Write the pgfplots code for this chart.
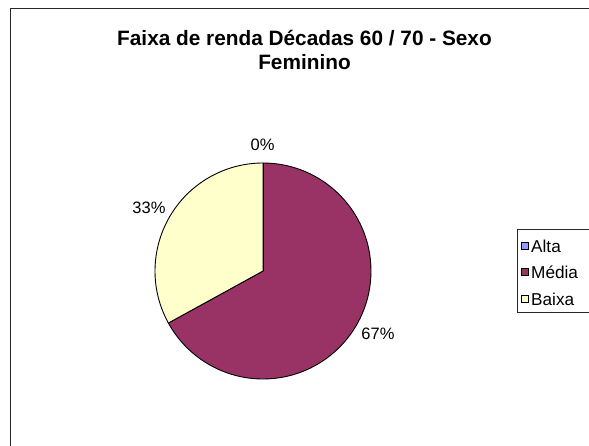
\documentclass[border=0pt]{standalone}
\usepackage{pgfplots}
\pgfplotsset{compat=1.18}
\usepackage{fontspec}
\setmainfont{Liberation Sans}
\definecolor{alta}{RGB}{153,153,255}
\definecolor{media}{RGB}{153,51,102}
\definecolor{baixa}{RGB}{255,255,204}
\definecolor{frame}{RGB}{40,40,40}

% shares in percent, drawn clockwise from 12 o'clock
\def\pAlta{0}
\def\pMedia{67}
\def\pBaixa{33}

\begin{document}
\begin{tikzpicture}
\useasboundingbox (0,0) rectangle (589pt,445pt);
\begin{axis}[x=1pt,y=1pt,xmin=0,xmax=589,ymin=0,ymax=445,
  hide axis,clip=false,anchor=origin,at={(0,0)}]
\def\cx{263}\def\cy{174}\def\r{108}
\pgfmathsetmacro\aA{90-3.6*\pAlta}
\pgfmathsetmacro\aM{\aA-3.6*\pMedia}
\pgfmathsetmacro\aB{\aM-3.6*\pBaixa}
% chart area frame
\draw[frame,line width=1pt] (axis cs:10,-5) -- (axis cs:10,436.5) -- (axis cs:600,436.5);
% title
\node[anchor=base,font=\fontsize{20.8}{24}\bfseries] at (axis cs:304.5,399) {Faixa de renda Décadas 60 / 70 - Sexo};
\node[anchor=base,font=\fontsize{20.8}{24}\bfseries] at (axis cs:304.5,375) {Feminino};
% pie
\filldraw[fill=media,draw=black,line width=0.9pt] (axis cs:\cx,\cy) -- ++(\aA:\r pt)
  arc[start angle=\aA,end angle=\aM,radius=\r pt] -- cycle;
\filldraw[fill=baixa,draw=black,line width=0.9pt] (axis cs:\cx,\cy) -- ++(\aM:\r pt)
  arc[start angle=\aM,end angle=\aB,radius=\r pt] -- cycle;
\draw[black,line width=0.9pt] (axis cs:\cx,\cy) -- ++(\aA:\r pt);
% data labels
\node[font=\fontsize{16.5}{19}\selectfont] at (axis cs:262.5,300) {\pAlta\%};
\node[font=\fontsize{16.5}{19}\selectfont] at (axis cs:149,237) {\pBaixa\%};
\node[font=\fontsize{16.5}{19}\selectfont] at (axis cs:378,111) {\pMedia\%};
% legend
\draw[frame,fill=white,line width=0.9pt] (axis cs:517,216) rectangle (axis cs:600,133);
\filldraw[fill=alta,draw=black,line width=0.6pt] (axis cs:521.5,195.5) rectangle (axis cs:528.5,202.5);
\filldraw[fill=media,draw=black,line width=0.6pt] (axis cs:521.5,169.5) rectangle (axis cs:528.5,176.5);
\filldraw[fill=baixa,draw=black,line width=0.6pt] (axis cs:521.5,142.5) rectangle (axis cs:528.5,149.5);
\node[anchor=west,inner sep=0pt,font=\fontsize{17.2}{19}\selectfont] at (axis cs:531,199) {Alta};
\node[anchor=west,inner sep=0pt,font=\fontsize{17.2}{19}\selectfont] at (axis cs:531,173) {Média};
\node[anchor=west,inner sep=0pt,font=\fontsize{17.2}{19}\selectfont] at (axis cs:531,146) {Baixa};
\end{axis}
\end{tikzpicture}
\end{document}
